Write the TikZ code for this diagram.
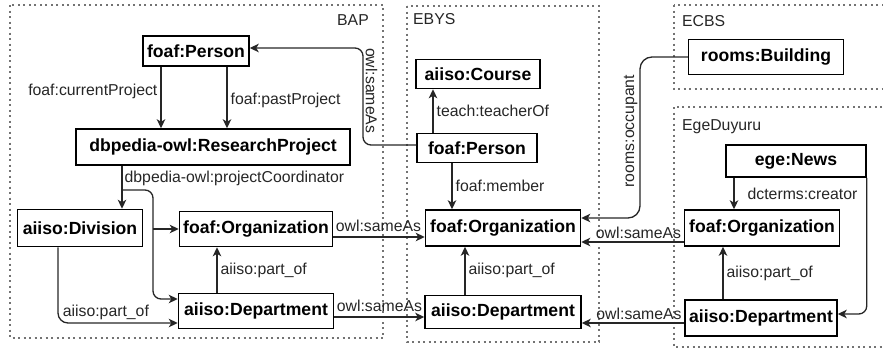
\documentclass[tikz,border=0pt]{standalone}
\usepackage{fontspec}
\setmainfont{Liberation Sans}
\usetikzlibrary{arrows.meta}

\begin{document}
\begin{tikzpicture}[x=1pt,y=-1pt,
    >={Stealth[length=9pt,width=8.5pt,inset=2.5pt]},
    box/.style={draw,line width=1.5pt,inner sep=0pt,minimum height=35pt,font=\fontsize{17.6}{20}\selectfont\bfseries},
    lbl/.style={font=\fontsize{15.8}{18}\selectfont,text=black!85,inner sep=3pt},
    link/.style={->,line width=1.3pt,draw=black!85},
    group/.style={draw=black!55,line width=1.2pt,dash pattern=on 2pt off 3.5pt}]

    \useasboundingbox (0,0) rectangle (883,351);

    \draw[group] (10,5) rectangle (383,338);
    \draw[group] (407,6) rectangle (599,342);
    \draw[group] (674,5) rectangle (890,89);
    \draw[group] (674,107) rectangle (890,347);

    \node[lbl,anchor=east,inner sep=0pt] (bapTitle) at (369,20) {BAP};
    \node[lbl,anchor=west,inner sep=0pt] (ebysTitle) at (413,19) {EBYS};
    \node[lbl,anchor=west,inner sep=0pt] (ecbsTitle) at (682,21) {ECBS};
    \node[lbl,anchor=west,inner sep=0pt] (egeTitle) at (682,127) {EgeDuyuru};

    \node[box,minimum width=106pt,minimum height=30pt] (bapPerson) at (196,51) {foaf:Person};
    \node[box,minimum width=274pt,minimum height=36pt] (researchProject) at (213,147) {dbpedia-owl:ResearchProject};
    \node[box,minimum width=125pt,minimum height=37pt] (division) at (80,228) {aiiso:Division};
    \node[box,minimum width=153pt] (bapOrg) at (256,229) {foaf:Organization};
    \node[box,minimum width=155pt] (bapDept) at (256,311) {aiiso:Department};

    \node[box,minimum width=124pt,minimum height=29pt] (course) at (478,74) {aiiso:Course};
    \node[box,minimum width=120pt,minimum height=29pt] (ebysPerson) at (477,148) {foaf:Person};
    \node[box,minimum width=155pt,minimum height=36pt] (ebysOrg) at (503,228) {foaf:Organization};
    \node[box,minimum width=156pt,minimum height=33pt] (ebysDept) at (503,312) {aiiso:Department};

    \node[box,minimum width=155pt] (building) at (766,57) {rooms:Building};
    \node[box,minimum width=140pt,minimum height=32pt] (news) at (796,161) {ege:News};
    \node[box,minimum width=155pt,minimum height=36pt] (egeOrg) at (762,228) {foaf:Organization};
    \node[box,minimum width=152pt,minimum height=36pt] (egeDept) at (761,318) {aiiso:Department};

    \coordinate (split) at (122,190);
    \coordinate (branch) at (153,229);

    \draw[link] (bapPerson.south -| 161,0) -- (researchProject.north -| 161,0) node[lbl,left,pos=0.4] {foaf:currentProject};
    \draw[link] (bapPerson.south -| 227,0) -- (researchProject.north -| 227,0) node[lbl,right,pos=0.55] {foaf:pastProject};
    \draw[link] (researchProject.south -| 122,0) -- (division.north -| 122,0) node[lbl,pos=0.29,anchor=west,inner sep=2pt] {dbpedia-owl:projectCoordinator};
    \draw[link,rounded corners=8pt] (split) -| (153,299) -- (bapDept.west |- 0,299);
    \draw[link] (branch) -- (bapOrg.west);
    \draw[link,rounded corners=10pt] (division.south -| 58,0) |- (bapDept.west |- 0,323) node[lbl,pos=0.7,above] {aiiso:part\_of};
    \draw[link] (bapDept.north -| 217,0) -- (bapOrg.south -| 217,0) node[lbl,midway,right] {aiiso:part\_of};

    \draw[link] (bapOrg.east |- 0,237) -- (ebysOrg.west |- 0,237) node[lbl,pos=0,anchor=south west,inner xsep=2pt,inner ysep=5pt] {owl:sameAs};
    \draw[link] (bapDept.east |- 0,317) -- (ebysDept.west |- 0,317) node[lbl,pos=0,anchor=south west,inner xsep=2pt,inner ysep=5pt] {owl:sameAs};
    \draw[link,rounded corners=8pt] (ebysPerson.west |- 0,145) -| (363,48) node[lbl,pos=0.78,rotate=-90,anchor=south,inner sep=2pt] {owl:sameAs} -- (bapPerson.east |- 0,48);

    \draw[link] (ebysPerson.north -| 433,0) -- (course.south -| 433,0) node[lbl,midway,right] {teach:teacherOf};
    \draw[link] (ebysPerson.south -| 452,0) -- (ebysOrg.north -| 452,0) node[lbl,midway,right] {foaf:member};
    \draw[link] (ebysDept.north -| 465,0) -- (ebysOrg.south -| 465,0) node[lbl,midway,right] {aiiso:part\_of};

    \draw[link,rounded corners=12pt] (building.west) -| (640,218) node[lbl,pos=0.73,rotate=90,anchor=south,inner sep=2pt] {rooms:occupant} -- (ebysOrg.east |- 0,218);
    \draw[link] (egeOrg.west |- 0,242) -- (ebysOrg.east |- 0,242) node[lbl,pos=0,anchor=south east,inner xsep=2pt,inner ysep=3pt] {owl:sameAs};
    \draw[link] (egeDept.west |- 0,323) -- (ebysDept.east |- 0,323) node[lbl,pos=0,anchor=south east,inner xsep=2pt,inner ysep=3pt] {owl:sameAs};

    \draw[link] (news.south -| 734,0) -- (egeOrg.north -| 734,0) node[lbl,midway,right,xshift=10pt] {dcterms:creator};
    \draw[link,rounded corners=8pt] (news.south east) |- ([yshift=4pt]egeDept.east);
    \draw[link] (egeDept.north -| 723,0) -- (egeOrg.south -| 723,0) node[lbl,midway,right] {aiiso:part\_of};
\end{tikzpicture}
\end{document}
